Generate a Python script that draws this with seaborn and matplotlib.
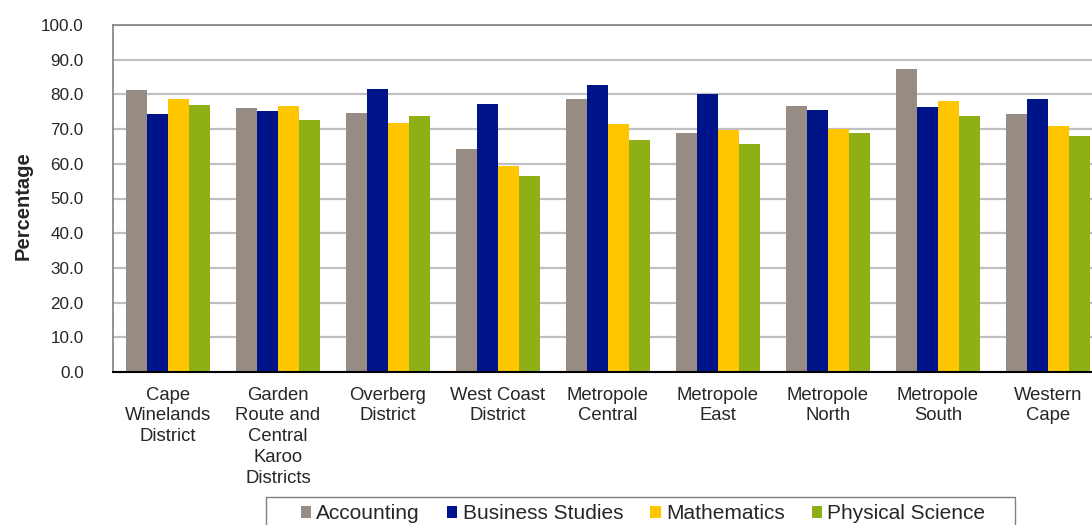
import matplotlib
matplotlib.use("Agg")
import matplotlib.pyplot as plt
from matplotlib.patches import Patch, Rectangle
import seaborn as sns
import pandas as pd

regions = [
    "Cape\nWinelands\nDistrict",
    "Garden\nRoute and\nCentral\nKaroo\nDistricts",
    "Overberg\nDistrict",
    "West Coast\nDistrict",
    "Metropole\nCentral",
    "Metropole\nEast",
    "Metropole\nNorth",
    "Metropole\nSouth",
    "Western\nCape",
]
subjects = ["Accounting", "Business Studies", "Mathematics", "Physical Science"]

accounting = [81.3, 76.1, 74.6, 64.4, 78.7, 69.0, 76.7, 87.4, 74.4]
business_studies = [74.4, 75.2, 81.5, 77.2, 82.8, 80.0, 75.4, 76.3, 78.6]
mathematics = [78.7, 76.7, 71.9, 59.5, 71.5, 69.7, 70.1, 78.1, 70.8]
physical_science = [76.9, 72.6, 73.9, 56.4, 66.9, 65.7, 68.8, 73.8, 68.1]

colors = ["#978C83", "#001489", "#FFC600", "#8FAF17"]
yticks = [0, 10, 20, 30, 40, 50, 60, 70, 80, 90, 100]

series = [accounting, business_studies, mathematics, physical_science]
df = pd.DataFrame(
    [
        {"region": r, "subject": s, "value": v}
        for s, vals in zip(subjects, series)
        for r, v in zip(regions, vals)
    ]
)

sns.set_style("white")
plt.rcParams["font.family"] = ["Liberation Sans", "DejaVu Sans"]

W, H = 1092, 525
fig = plt.figure(figsize=(W / 100, H / 100), dpi=100)
left, top, bottom, right = 113, 25, 372, 1103
ax = fig.add_axes([left / W, 1 - bottom / H, (right - left) / W, (bottom - top) / H])

sns.barplot(
    data=df, x="region", y="value", hue="subject",
    order=regions, hue_order=subjects, palette=colors,
    width=0.77, gap=0, linewidth=0, saturation=1, legend=False, ax=ax,
)

ax.set_xlim(-0.5, len(regions) - 0.5)
ax.set_ylim(0, 100)
ax.set_yticks(yticks)
ax.set_yticklabels([f"{t:.1f}" for t in yticks], fontsize=12.3)
ax.set_axisbelow(True)
ax.yaxis.grid(True, color="#C0C0C0", linewidth=1.6)
ax.xaxis.grid(False)

ax.tick_params(axis="y", length=0, pad=21)
ax.tick_params(axis="x", length=0, pad=10.5, labelsize=13.3)
for lbl in ax.get_xticklabels():
    lbl.set_linespacing(1.3)

ax.set_xlabel("")
ax.set_ylabel("Percentage", fontsize=14.5, fontweight="bold", va="center")
ax.yaxis.set_label_coords(-0.0909, 0.48)

for side in ["left", "top", "right"]:
    ax.spines[side].set_color("#808080")
    ax.spines[side].set_linewidth(1.2)
ax.spines["bottom"].set_color("black")
ax.spines["bottom"].set_linewidth(1.5)

handles = [Patch(facecolor=c, edgecolor="none", label=s) for s, c in zip(subjects, colors)]
fig.legend(
    handles=handles, loc="upper center", bbox_to_anchor=(643 / W, 1 - 494 / H),
    ncol=4, frameon=False, fontsize=15, borderpad=0,
    handlelength=0.5, handleheight=0.5, handletextpad=0.25, columnspacing=1.3,
)
fig.add_artist(Rectangle((266 / W, -0.05), (1015 - 266) / W, 0.05 + 1 - 497 / H,
                         transform=fig.transFigure, facecolor="none",
                         edgecolor="#808080", linewidth=1.0))

fig.savefig("out.png", dpi=100)
